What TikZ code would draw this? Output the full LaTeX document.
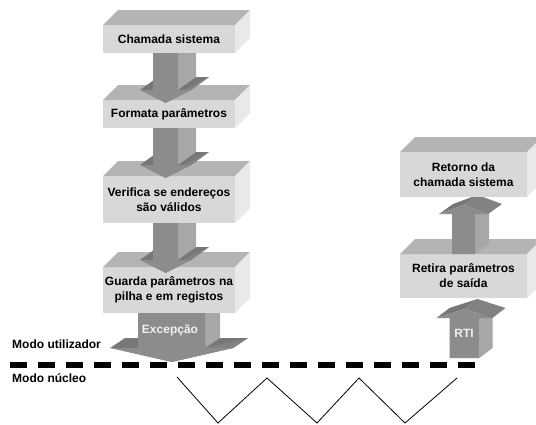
\documentclass[tikz,border=0pt]{standalone}
\usepackage{fontspec}
\setmainfont{Liberation Sans}
\usetikzlibrary{calc}

\definecolor{boxfront}{HTML}{D8D8D8}
\definecolor{boxtop}{HTML}{B4B4B4}
\definecolor{boxside}{HTML}{E9E9E9}
\definecolor{arrfront}{HTML}{8C8C8C}
\definecolor{arrside}{HTML}{A7A7A7}
\definecolor{arrtop}{HTML}{777777}
\definecolor{arrslant}{HTML}{828282}

% cube faces (top and right side) behind a named front-face node
\newcommand\boxfaces[1]{%
  \fill[boxtop] (#1.north west) -- ++(15,-15) -- ($(#1.north east)+(15,-15)$) -- (#1.north east) -- cycle;
  \fill[boxside] (#1.north east) -- ++(15,-15) -- ($(#1.south east)+(15,-15)$) -- (#1.south east) -- cycle;
}

% 3D block arrow pointing down
% #1 centre x, #2 shaft top, #3 half shaft width, #4 wing, #5 wing y, #6 tip y, #7 dx, #8 dy
\newcommand\downblock[8]{%
  \fill[arrside] (#1+#3,#2) -- (#1+#3+#7,#2-#8) -- (#1+#3+#7,#5-#8) -- (#1+#3,#5) -- cycle;
  \fill[arrtop] (#1-#3-#4,#5) -- (#1-#3,#5) -- (#1-#3+#7,#5-#8) -- (#1-#3-#4+#7,#5-#8) -- cycle;
  \fill[arrtop] (#1+#3,#5) -- (#1+#3+#4,#5) -- (#1+#3+#4+#7,#5-#8) -- (#1+#3+#7,#5-#8) -- cycle;
  \fill[arrslant] (#1+#3+#4,#5) -- (#1+#3+#4+#7,#5-#8) -- (#1+#7,#6-#8) -- (#1,#6) -- cycle;
  \fill[arrfront] (#1-#3,#2) -- (#1+#3,#2) -- (#1+#3,#5) -- (#1+#3+#4,#5) -- (#1,#6)
     -- (#1-#3-#4,#5) -- (#1-#3,#5) -- cycle;
}

% 3D block arrow pointing up
% #1 centre x, #2 shaft bottom, #3 half shaft width, #4 wing, #5 wing y, #6 apex y, #7 dx, #8 dy
\newcommand\upblock[8]{%
  \fill[arrside] (#1+#3,#2) -- (#1+#3+#7,#2-#8) -- (#1+#3+#7,#5-#8) -- (#1+#3,#5) -- cycle;
  \fill[arrtop] (#1-#3-#4,#5) -- (#1,#6) -- (#1+#7,#6-#8) -- (#1-#3-#4+#7,#5-#8) -- cycle;
  \fill[arrslant] (#1,#6) -- (#1+#3+#4,#5) -- (#1+#3+#4+#7,#5-#8) -- (#1+#7,#6-#8) -- cycle;
  \fill[arrfront] (#1-#3,#2) -- (#1-#3,#5) -- (#1-#3-#4,#5) -- (#1,#6) -- (#1+#3+#4,#5)
     -- (#1+#3,#5) -- (#1+#3,#2) -- cycle;
}

\tikzset{
  lbl/.style={font=\fontsize{12}{15}\selectfont\bfseries, align=center, inner sep=0pt, text=black},
  stagebox/.style={lbl, fill=boxfront, minimum width=132pt, outer sep=0pt},
  arrlbl/.style={lbl, text=white!94!black},
  modeline/.style={line width=5.5pt, dash pattern=on 16.5pt off 11.5pt},
  wave/.style={line width=0.8pt}
}

\begin{document}
\begin{tikzpicture}[x=1pt,y=-1pt]
\useasboundingbox (0,0) rectangle (536,424);
\clip (0,0) rectangle (536,424);

% ---- user-mode steps (drawn bottom to top so each arrow sits between its boxes)
\downblock{171.5}{313}{33.5}{28}{348}{362}{15}{10}
\node[arrlbl] (exc) at (170,330) {Excepção};

\node[stagebox, minimum height=46pt] (b4) at (169,290)
  {Guarda parâmetros na\\pilha e em registos};
\boxfaces{b4}
\downblock{165.5}{223}{12.5}{13}{260}{273}{18}{13}

\node[stagebox, minimum height=47pt] (b3) at (169,199.5)
  {Verifica se endereços\\são válidos};
\boxfaces{b3}
\downblock{165.5}{128}{12.5}{13}{165}{178}{18}{13}

\node[stagebox, minimum height=28pt] (b2) at (169,114) {Formata parâmetros};
\boxfaces{b2}
\downblock{165.5}{53}{12.5}{13}{90}{103}{18}{13}

\node[stagebox, minimum height=28pt] (b1) at (169,39) {Chamada sistema};
\boxfaces{b1}

% ---- return path
\node[stagebox, minimum width=127pt, minimum height=44pt] (r2) at (463.5,276)
  {Retira parâmetros\\de saída};
\boxfaces{r2}
\upblock{464.5}{358}{15}{13}{318}{309}{13}{10}
\node[arrlbl] (rti) at (464,333) {RTI};
\upblock{463.5}{254}{11.5}{13}{214}{205}{14}{10}

\node[stagebox, minimum width=127pt, minimum height=45pt] (r1) at (463.5,174.5)
  {Retorno da\\chamada sistema};
\boxfaces{r1}

% ---- mode boundary
\node[lbl, anchor=west] (mu) at (12,344) {Modo utilizador};
\node[lbl, anchor=west] (mn) at (12,378) {Modo núcleo};
\draw[modeline] (10,365) -- (477,365);

% ---- kernel activity
\draw[wave] (177,377) -- (218,423) -- (267,378) -- (317,423) -- (359,378)
  -- (405,423) -- (457,378);
\end{tikzpicture}
\end{document}
